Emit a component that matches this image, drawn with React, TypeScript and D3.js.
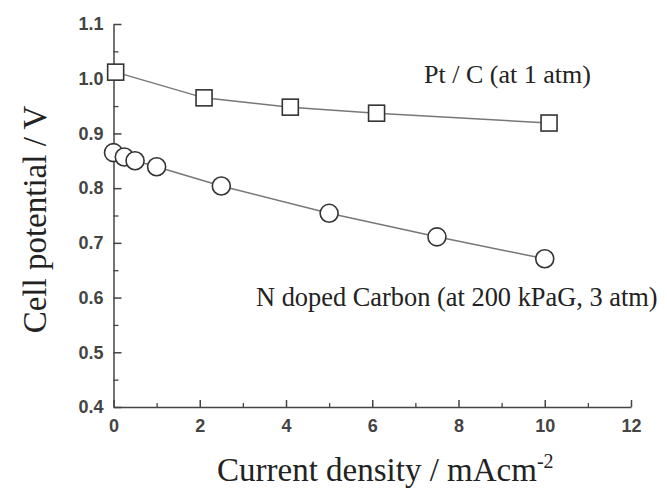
import React, { useEffect, useRef } from 'react';
import * as d3 from 'd3';

// Pt / C cathode, 1 atm
const ptcCurrent = [0.05, 2.1, 4.1, 6.1, 10.1];
const ptcPotential = [1.012, 0.965, 0.948, 0.937, 0.919];

// N doped carbon cathode, 200 kPaG
const ncCurrent = [0, 0.25, 0.5, 1, 2.5, 5, 7.5, 10];
const ncPotential = [0.865, 0.857, 0.85, 0.839, 0.804, 0.754, 0.711, 0.671];

const xTicks = [0, 2, 4, 6, 8, 10, 12];
const xMinorTicks = [1, 3, 5, 7, 9, 11];
const yTicks = [0.4, 0.5, 0.6, 0.7, 0.8, 0.9, 1.0, 1.1];
const yMinorTicks = [0.45, 0.55, 0.65, 0.75, 0.85, 0.95, 1.05];

const ptcLabel = 'Pt / C (at 1 atm)';
const ncLabel = 'N doped Carbon (at 200 kPaG, 3 atm)';
const xTitle = 'Current density / mAcm';
const yTitle = 'Cell potential / V';

function PolarizationChart() {
  const svgRef = useRef<SVGSVGElement>(null);

  useEffect(() => {
    const width = 667;
    const height = 490;
    const serif = '"Liberation Serif", "Times New Roman", serif';
    const sans = '"Liberation Sans", Arial, sans-serif';
    const axisColor = '#444';

    const svg = d3.select(svgRef.current);
    svg.selectAll('*').remove();

    const xScale = d3.scaleLinear().domain([0, 12]).range([113.5, 631]);
    const yScale = d3.scaleLinear().domain([0.4, 1.1]).range([407, 24]);

    // minor ticks first, no labels
    svg.append('g')
      .attr('transform', `translate(0,${yScale(0.4)})`)
      .call(d3.axisBottom(xScale).tickValues(xMinorTicks).tickSizeInner(-4).tickSizeOuter(0).tickFormat(() => ''))
      .call(g => g.select('.domain').remove())
      .call(g => g.selectAll('line').attr('stroke', axisColor).attr('stroke-width', 1.3));

    svg.append('g')
      .attr('transform', `translate(${xScale(0)},0)`)
      .call(d3.axisLeft(yScale).tickValues(yMinorTicks).tickSizeInner(-5).tickSizeOuter(0).tickFormat(() => ''))
      .call(g => g.select('.domain').remove())
      .call(g => g.selectAll('line').attr('stroke', axisColor).attr('stroke-width', 1.3));

    // x axis
    svg.append('g')
      .attr('transform', `translate(0,${yScale(0.4)})`)
      .call(d3.axisBottom(xScale).tickValues(xTicks).tickSizeInner(-7).tickSizeOuter(0).tickPadding(12).tickFormat(d3.format('d')))
      .call(g => g.select('.domain').attr('stroke', axisColor).attr('stroke-width', 1.5))
      .call(g => g.selectAll('line').attr('stroke', axisColor).attr('stroke-width', 1.5))
      .call(g => g.selectAll('text')
        .attr('fill', '#444')
        .style('font-family', sans)
        .style('font-weight', 'bold')
        .style('font-size', '18px'));

    // y axis
    svg.append('g')
      .attr('transform', `translate(${xScale(0)},0)`)
      .call(d3.axisLeft(yScale).tickValues(yTicks).tickSizeInner(-8).tickSizeOuter(0).tickPadding(10).tickFormat(d3.format('.1f')))
      .call(g => g.select('.domain').attr('stroke', axisColor).attr('stroke-width', 1.5))
      .call(g => g.selectAll('line').attr('stroke', axisColor).attr('stroke-width', 1.5))
      .call(g => g.selectAll('text')
        .attr('fill', '#444')
        .style('font-family', sans)
        .style('font-weight', 'bold')
        .style('font-size', '18px'));

    const line = d3.line<[number, number]>()
      .x(d => xScale(d[0]))
      .y(d => yScale(d[1]));

    const ptcData: [number, number][] = ptcCurrent.map((c, i) => [c, ptcPotential[i]]);
    const ncData: [number, number][] = ncCurrent.map((c, i) => [c, ncPotential[i]]);

    svg.append('path')
      .datum(ptcData)
      .attr('fill', 'none')
      .attr('stroke', '#777')
      .attr('stroke-width', 1.5)
      .attr('d', line);

    svg.append('path')
      .datum(ncData)
      .attr('fill', 'none')
      .attr('stroke', '#777')
      .attr('stroke-width', 1.5)
      .attr('d', line);

    const sq = 16;
    svg.append('g')
      .selectAll('rect')
      .data(ptcData)
      .join('rect')
      .attr('x', d => xScale(d[0]) - sq / 2)
      .attr('y', d => yScale(d[1]) - sq / 2)
      .attr('width', sq)
      .attr('height', sq)
      .attr('fill', 'white')
      .attr('stroke', '#333')
      .attr('stroke-width', 1.6);

    svg.append('g')
      .selectAll('circle')
      .data(ncData)
      .join('circle')
      .attr('cx', d => xScale(d[0]))
      .attr('cy', d => yScale(d[1]))
      .attr('r', 9)
      .attr('fill', 'white')
      .attr('stroke', '#333')
      .attr('stroke-width', 1.6);

    // series labels
    svg.append('text')
      .attr('x', 424)
      .attr('y', 83)
      .attr('fill', '#222')
      .style('font-family', serif)
      .style('font-size', '26px')
      .text(ptcLabel);

    svg.append('text')
      .attr('x', 256)
      .attr('y', 306)
      .attr('fill', '#222')
      .style('font-family', serif)
      .style('font-size', '26.4px')
      .text(ncLabel);

    // axis titles
    const xt = svg.append('text')
      .attr('x', 217)
      .attr('y', 481)
      .attr('fill', '#222')
      .style('font-family', serif)
      .style('font-size', '33px');
    xt.append('tspan').text(xTitle);
    xt.append('tspan').attr('dy', -13).style('font-size', '20px').text('-2');

    svg.append('text')
      .attr('transform', `translate(46,${(24 + 407) / 2 + 4}) rotate(-90)`)
      .attr('text-anchor', 'middle')
      .attr('fill', '#222')
      .style('font-family', serif)
      .style('font-size', '33px')
      .text(yTitle);

    svg.attr('width', width).attr('height', height);
  }, []);

  return <svg ref={svgRef} style={{ position: 'absolute', left: 0, top: 0, background: 'white' }}></svg>;
}

export default function App() {
  return <PolarizationChart />;
}
